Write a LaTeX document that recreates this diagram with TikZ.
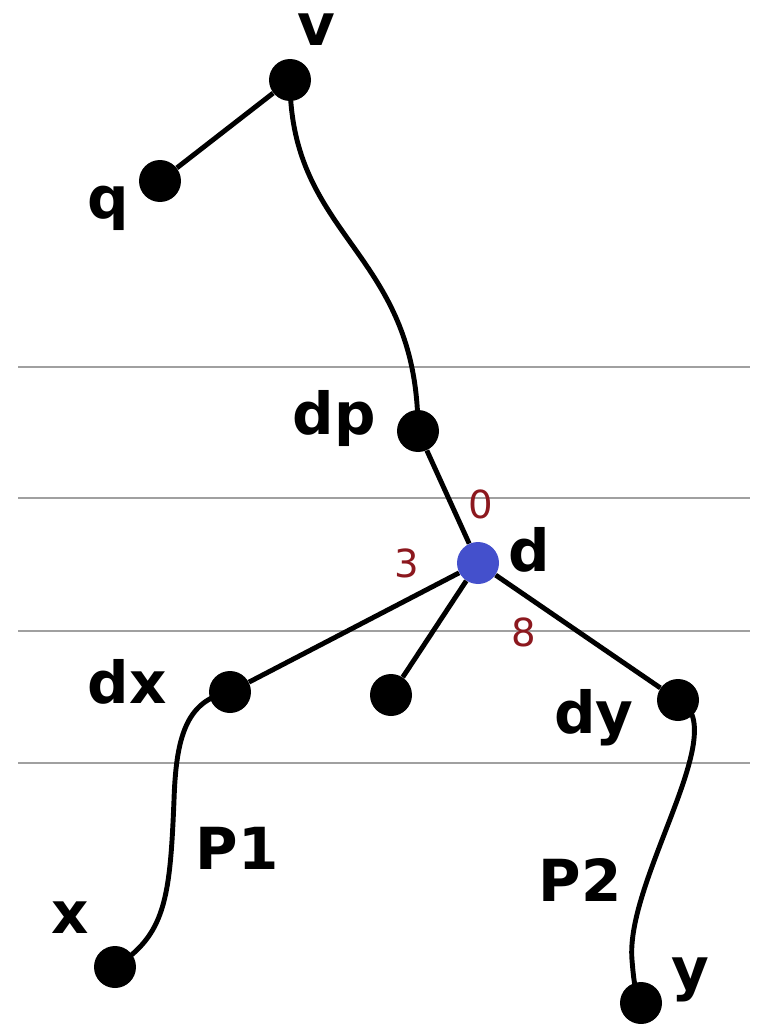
\documentclass[tikz,border=0pt]{standalone}
\usepackage{fontspec}
\setmainfont{DejaVu Sans}
\usetikzlibrary{positioning}
\definecolor{dotblue}{RGB}{68,80,204}
\definecolor{numred}{RGB}{140,24,30}
\definecolor{rulegray}{RGB}{160,160,160}
\tikzset{vtx/.style={circle, fill=black, inner sep=0pt, minimum size=0.84cm},
  lbl/.style={inner sep=0pt, font=\fontsize{33}{36}\selectfont\bfseries},
  num/.style={inner sep=0pt, text=numred, font=\fontsize{22}{24}\selectfont},
  edge/.style={line width=2.8pt, black},
  level/.style={line width=1pt, rulegray}}

\begin{document}
\begin{tikzpicture}[x=0.02cm, y=-0.02cm]
\useasboundingbox (0,0) rectangle (761,1024);
% level lines
\foreach \yy [count=\i] in {367,498,631,763} {
  \coordinate (l\i) at (18,\yy);
  \coordinate (r\i) at (750,\yy);
  \draw[level] (l\i) -- (r\i);
}
\node[vtx] (v) at (290,80) {};
\node[vtx] (q) at (160,181) {};
\node[vtx] (dp) at (418,431) {};
\node[vtx, fill=dotblue] (d) at (478,563) {};
\node[vtx] (dx) at (230,692) {};
\node[vtx] (m) at (391,695) {};
\node[vtx] (dy) at (678,700) {};
\node[vtx] (x) at (115,967) {};
\node[vtx] (y) at (641,1003) {};
% names
\node[lbl] (vlbl) at (316,30) {v};
\node[lbl] (qlbl) at (108,208) {q};
\node[lbl] (dplbl) at (334,418) {dp};
\node[lbl] (dlbl) at (529,550) {d};
\node[lbl] (dxlbl) at (127,682) {dx};
\node[lbl] (dylbl) at (594,718) {dy};
\node[lbl] (xlbl) at (70,918) {x};
\node[lbl] (ylbl) at (690,980) {y};
\node[lbl] (p1) at (237,848) {P1};
\node[lbl] (p2) at (580,880) {P2};
\node[num] (n0) at (481,504) {0};
\node[num] (n3) at (407,563) {3};
\node[num] (n8) at (524,632) {8};
% tree
\draw[edge] (v) -- (q);
\draw[edge] (v.center) .. controls (290,240) and (418,250) .. (dp.center);
\draw[edge] (dp) -- (d);
\draw[edge] (d) -- (dx);
\draw[edge] (d) -- (m);
\draw[edge] (d) -- (dy);
\draw[edge] (dx.center) .. controls (185,700) and (176,740) .. (174,800)
  .. controls (170,900) and (165,935) .. (x.center);
\draw[edge] (dy.center) .. controls (735,725) and (625,880) .. (632,960)
  .. controls (634,985) and (636,995) .. (y.center);
\end{tikzpicture}
\end{document}
